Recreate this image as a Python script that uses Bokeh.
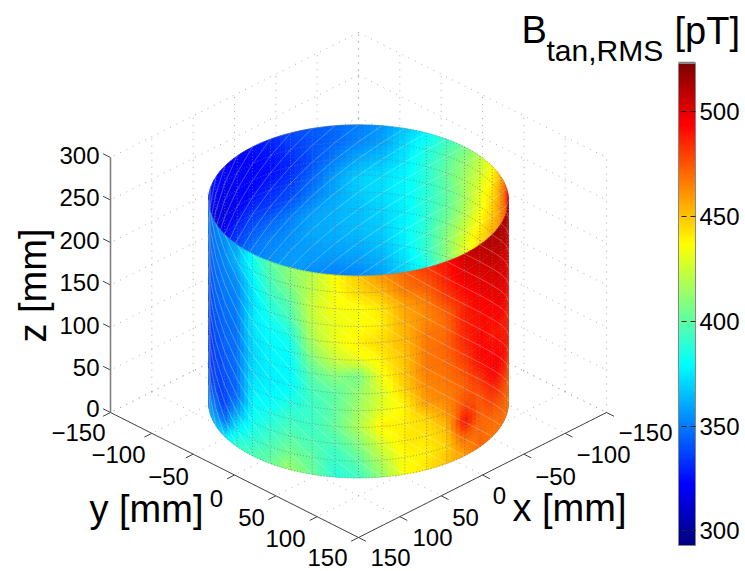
import numpy as np
from bokeh.plotting import figure
from bokeh.models import Range1d, LinearColorMapper, ColorBar, FixedTicker, ColumnDataSource
from bokeh.core.properties import value
from bokeh.embed import file_html
from bokeh.resources import INLINE

# Tick values
xy_ticks = [-150, -100, -50, 0, 50, 100, 150]
z_ticks = [0, 50, 100, 150, 200, 250, 300]
cbar_ticks = [300, 350, 400, 450, 500]
cbar_low = 293
cbar_high = 523

# Cylinder geometry (mm)
radius = 128.3
z_bottom = 12
z_top = 249.5
angle_step_deg = 9

# B_tan,RMS [pT] read from the outer front wall; one list per column (left to right), top to bottom
front_columns = [
    [345,345,344,342,340,338,336,336,336,336,340,345,350],
    [350,348,346,344,342,340,338,336,336,336,340,350,360],
    [352,350,348,346,344,342,340,338,336,336,340,350,365],
    [356,354,352,350,348,346,345,342,340,338,335,345,375],
    [360,365,355,352,350,348,347,347,346,345,360,378,392],
    [382,380,375,372,375,372,370,372,375,378,382,388,396],
    [400,396,392,385,380,378,378,376,378,384,390,396,402],
    [412,408,400,395,385,380,378,378,385,392,398,405,415],
    [420,422,425,422,418,410,400,395,392,392,395,400,403],
    [437,435,435,432,432,425,410,400,400,402,395,390,388],
    [448,445,435,435,440,432,405,412,415,418,408,400,392],
    [462,452,442,440,445,440,435,428,430,440,428,420,412],
    [470,467,457,455,453,450,450,447,438,440,442,437,436],
    [482,474,466,463,467,467,467,463,460,445,442,440,442],
    [490,488,482,472,470,472,470,468,465,460,450,446,450],
    [505,500,494,488,488,486,482,476,472,478,492,470,458],
    [510,505,500,496,492,492,494,492,482,475,472,470,472],
    [514,508,504,500,496,492,490,494,496,488,478,470,468],
    [514,510,505,502,500,496,490,490,494,488,478,472,468],
    [512,508,503,500,497,492,488,488,490,484,476,470,468],
    [508,505,500,496,492,488,485,485,486,480,472,468,466],
]

# B_tan,RMS [pT] read from the inner back wall; one list per ring, top to bottom, left to right
back_rows = [
    [335,330,325,322,322,325,330,338,342,345,350,356,366,378,392,405,420,435,455,480,500],
    [332,328,322,320,320,322,326,334,340,345,352,358,372,385,398,412,425,440,460,480,495],
    [325,320,316,318,320,322,324,330,340,350,360,365,375,388,402,415,430,445,462,475,488],
    [330,322,315,316,320,325,330,335,345,358,368,372,378,388,400,415,432,448,462,470,482],
    [340,330,322,322,328,335,335,340,350,360,368,372,378,388,400,418,438,455,465,470,475],
    [345,338,330,330,335,342,345,350,358,362,365,370,376,388,405,425,445,455,460,465,470],
    [348,345,340,338,342,348,352,354,360,362,365,368,378,390,410,430,445,450,455,460,465],
    [350,348,345,345,345,350,354,356,358,360,362,366,376,390,410,428,440,448,450,455,460],
    [350,350,350,350,350,352,356,358,356,356,358,362,372,384,405,420,435,445,450,450,455],
    [350,350,350,350,350,352,356,356,352,350,352,358,366,380,395,415,430,440,445,450,450],
    [350,350,350,350,350,352,356,356,352,350,352,358,366,380,395,415,430,440,445,450,450],
]

FONT = value("Liberation Sans")


def proj(x, y, z):
    """Fixed view of the 3D box, in page pixels."""
    x, y, z = np.asarray(x, float), np.asarray(y, float), np.asarray(z, float)
    return 358 + (y - x) * 248 / 300, 412 + (x + y) * 125 / 300 - z * 0.85


t = np.linspace(0, 1, 256)
jet = ["#%02x%02x%02x" % tuple(int(round(255 * np.clip(1.5 - abs(4 * v - c), 0, 1))) for c in (3, 2, 1)) for v in t]
mapper = LinearColorMapper(palette=jet, low=cbar_low, high=cbar_high)

p = figure(width=745, height=571, x_range=Range1d(0, 745), y_range=Range1d(571, 0),
           toolbar_location=None, output_backend="svg", min_border=0,
           x_axis_location=None, y_axis_location=None, outline_line_color=None)
p.grid.visible = False
p.background_fill_color = "white"
p.border_fill_color = "white"

# box grid
gx, gy = [], []
def seg(a, b):
    X, Y = proj([a[0], b[0]], [a[1], b[1]], [a[2], b[2]])
    gx.append(list(X)); gy.append(list(Y))
for v in xy_ticks:
    seg((v, -150, 0), (v, 150, 0))
    seg((-150, v, 0), (150, v, 0))
    seg((v, -150, 0), (v, -150, 300))
    seg((-150, v, 0), (-150, v, 300))
for v in z_ticks:
    seg((-150, -150, v), (150, -150, v))
    seg((-150, -150, v), (-150, 150, v))
p.multi_line(gx, gy, line_color="#9a9a9a", line_width=1, line_dash="1 6", line_alpha=0.8)

# axes
ax, ay = [], []
def axseg(a, b):
    X, Y = proj([a[0], b[0]], [a[1], b[1]], [a[2], b[2]])
    ax.append(list(X)); ay.append(list(Y))
axseg((150, -150, 0), (150, 150, 0))
axseg((150, 150, 0), (-150, 150, 0))
tick = 9
for v in xy_ticks:
    axseg((150, v, 0), (150 + tick, v, 0))
    axseg((v, 150, 0), (v, 150 + tick, 0))
for v in z_ticks:
    axseg((150, -150, v), (150, -150 - tick, v))
p.multi_line(ax, ay, line_color="#444444", line_width=1)
zx, zy = proj([150, 150], [-150, -150], [0, 300])
p.line(zx, zy, line_color="#808080", line_width=1.6)


def draw_wall(values, sign, diag_down):
    nc, nr = values.shape
    angs = np.radians(-45 + sign * angle_step_deg * np.arange(nc))
    step = (z_top - z_bottom) / 12
    zs = z_top - step * np.arange(nr)
    n = 4
    xs, ys, vals = [], [], []
    for c in range(nc - 1):
        for r in range(nr - 1):
            for a in range(n):
                for b in range(n):
                    ua = np.array([a, a + 1, a + 1, a]) / n
                    ub = np.array([b, b, b + 1, b + 1]) / n
                    th = angs[c] + (angs[c + 1] - angs[c]) * ua
                    zz = zs[r] + (zs[r + 1] - zs[r]) * ub
                    X, Y = proj(radius * np.cos(th), radius * np.sin(th), zz)
                    xs.append(X.tolist()); ys.append(Y.tolist())
                    u, w = (a + .5) / n, (b + .5) / n
                    vals.append(values[c, r] * (1 - u) * (1 - w) + values[c + 1, r] * u * (1 - w)
                                + values[c, r + 1] * (1 - u) * w + values[c + 1, r + 1] * u * w)
    src = ColumnDataSource(dict(xs=xs, ys=ys, v=vals))
    cm = dict(field="v", transform=mapper)
    p.patches("xs", "ys", source=src, fill_color=cm, line_color=cm, line_width=0.7)

    # mesh edges
    lx, ly, dx, dy = [], [], [], []
    for c in range(nc):
        X, Y = proj(radius * np.cos(angs[c]) * np.ones(nr), radius * np.sin(angs[c]) * np.ones(nr), zs)
        lx.append(X.tolist()); ly.append(Y.tolist())
    fine = np.linspace(angs[0], angs[-1], 161)
    for r in range(nr):
        X, Y = proj(radius * np.cos(fine), radius * np.sin(fine), zs[r] * np.ones_like(fine))
        lx.append(X.tolist()); ly.append(Y.tolist())
    for c in range(nc - 1):
        for r in range(nr - 1):
            r0, r1 = (r, r + 1) if diag_down else (r + 1, r)
            X, Y = proj(radius * np.cos(angs[[c, c + 1]]), radius * np.sin(angs[[c, c + 1]]), zs[[r0, r1]])
            dx.append(X.tolist()); dy.append(Y.tolist())
    p.multi_line(dx, dy, line_color="white", line_alpha=0.35, line_width=0.8)
    p.multi_line(lx, ly, line_color="#707878", line_alpha=0.7, line_width=1, line_dash="1 2")


draw_wall(np.array(back_rows).T, -1, False)
draw_wall(np.array(front_columns), 1, True)


def labels(xs, ys, texts, size, align="center", angle=0.0, baseline="middle", color="black"):
    p.text(xs, ys, text=texts, text_font=FONT, text_font_size=value(size), text_align=align,
           text_baseline=baseline, angle=angle, text_color=color)


num = lambda v: str(v).replace("-", "\u2212")
labels([99] * 7, [408, 367, 325, 282, 240, 197, 155], [num(v) for v in z_ticks], "24px", align="right")
labels([78, 118, 168, 216, 251, 285, 327], [432, 454, 476, 498, 517, 538, 557], [num(v) for v in xy_ticks], "24px")
labels([645, 603, 555, 499, 465, 432, 390], [432, 454, 476, 495, 517, 537, 557], [num(v) for v in xy_ticks], "24px")
labels([146], [508], ["y [mm]"], "38px")
labels([569], [507], ["x [mm]"], "38px")
labels([32], [285], ["z [mm]"], "38px", angle=np.pi / 2)
labels([521], [29], ["B"], "38px", align="left")
labels([546], [50], ["tan,RMS"], "30px", align="left")
labels([674], [30], ["[pT]"], "38px", align="left")

cb = ColorBar(color_mapper=mapper, ticker=FixedTicker(ticks=cbar_ticks), width=17, height=482,
              location=(678, 26), padding=0, margin=0, major_label_text_font="Liberation Sans",
              major_label_text_font_size="24px", major_label_text_color="black", label_standoff=4,
              major_tick_in=17, major_tick_out=0, major_tick_line_color="#222222", major_tick_line_dash="5 4",
              major_tick_line_width=1, minor_tick_line_color=None, bar_line_color="#888888",
              border_line_color=None, background_fill_alpha=0)
p.add_layout(cb, "center")
p.line([678, 695], [62.5, 62.5], line_color="#808080", line_width=2.5)

open("out.html", "w").write(file_html(p, INLINE))
